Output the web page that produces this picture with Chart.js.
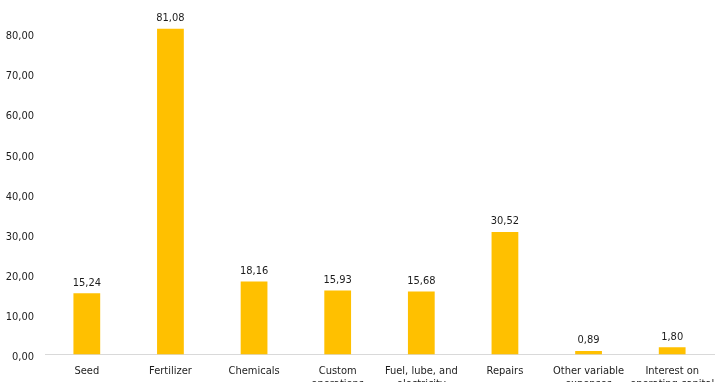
<!DOCTYPE html>
<html>
<head>
<meta charset="utf-8">
<script src="https://cdn.jsdelivr.net/npm/chart.js@4"></script>
<style>
  html, body { margin: 0; padding: 0; background: #fff; overflow: hidden; width: 719px; height: 382px; }
  #wrap { position: absolute; left: 0; top: -40px; width: 719px; height: 460px; }
</style>
</head>
<body>
<div id="wrap"><canvas id="c"></canvas></div>
<script>
// Operating costs per item
const categories = [
  ["Seed"],
  ["Fertilizer"],
  ["Chemicals"],
  ["Custom", "operations"],
  ["Fuel, lube, and", "electricity"],
  ["Repairs"],
  ["Other variable", "expenses"],
  ["Interest on", "operating capital"]
];
const costValues = [15.24, 81.08, 18.16, 15.93, 15.68, 30.52, 0.89, 1.80];
const yTicks = [0, 10, 20, 30, 40, 50, 60, 70, 80, 90];

const FONT = '"DejaVu Sans Condensed", "Liberation Sans Narrow", sans-serif';
const TEXT = '#1c1c1c';

const fmt = v => v.toFixed(2).replace('.', ',');

// Writes each bar's value just above it
const valueLabels = {
  id: 'valueLabels',
  afterDatasetsDraw(chart) {
    const ctx = chart.ctx;
    const meta = chart.getDatasetMeta(0);
    ctx.save();
    ctx.font = '11px ' + FONT;
    ctx.fillStyle = TEXT;
    ctx.textAlign = 'center';
    ctx.textBaseline = 'bottom';
    meta.data.forEach((bar, i) => {
      ctx.fillText(fmt(costValues[i]), bar.x, bar.y - 5);
    });
    ctx.restore();
  }
};

new Chart(document.getElementById('c'), {
  type: 'bar',
  data: {
    labels: categories,
    datasets: [{
      data: costValues,
      backgroundColor: '#FFC000',
      borderWidth: 0,
      categoryPercentage: 1,
      barPercentage: 0.32
    }]
  },
  options: {
    responsive: true,
    maintainAspectRatio: false,
    animation: false,
    events: [],
    layout: { padding: { top: 33, right: 5, left: 0, bottom: 0 } },
    plugins: { legend: { display: false }, tooltip: { enabled: false } },
    scales: {
      x: {
        grid: { display: false, drawTicks: false },
        border: { display: true, color: '#d9d9d9', width: 1 },
        ticks: {
          color: TEXT,
          font: { family: FONT, size: 11 },
          padding: 10,
          autoSkip: false,
          maxRotation: 0,
          minRotation: 0
        },
        afterFit(scale) {
          scale.height = 65.5;
          scale.paddingLeft = 0;
          scale.paddingRight = 0;
        }
      },
      y: {
        min: 0,
        max: 90,
        grid: { display: false, drawTicks: false },
        border: { display: false },
        afterBuildTicks(scale) { scale.ticks = yTicks.map(v => ({ value: v })); },
        ticks: {
          color: TEXT,
          font: { family: FONT, size: 11 },
          padding: 11,
          labelOffset: 3,
          callback: v => fmt(v)
        },
        afterFit(scale) { scale.width = 45; }
      }
    }
  },
  plugins: [valueLabels]
});
</script>
</body>
</html>
